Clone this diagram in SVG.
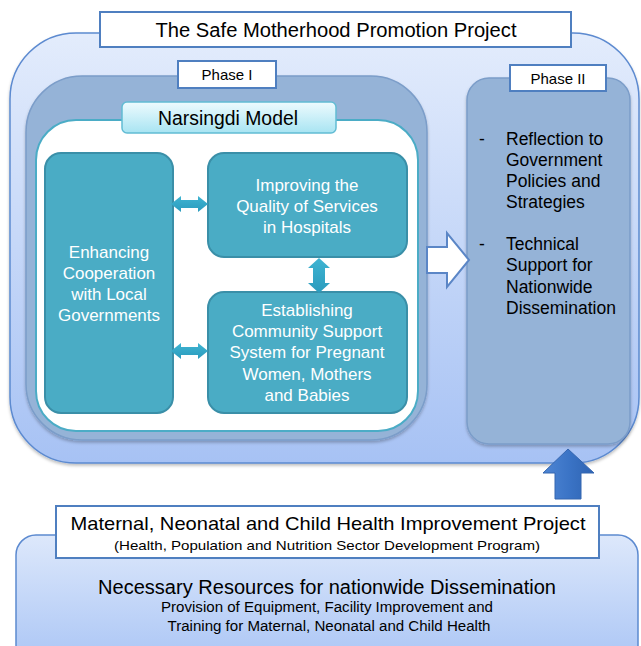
<svg xmlns="http://www.w3.org/2000/svg" width="641" height="646" viewBox="0 0 641 646">
  <defs>
    <linearGradient id="gOuter" x1="0" y1="0" x2="0" y2="1">
      <stop offset="0" stop-color="#e3ecfc"/>
      <stop offset="1" stop-color="#a7c2f4"/>
    </linearGradient>
    <linearGradient id="gBottom" x1="0" y1="0" x2="0" y2="1">
      <stop offset="0" stop-color="#dde8fb"/>
      <stop offset="1" stop-color="#aac5f5"/>
    </linearGradient>
    <linearGradient id="gLabel" x1="0" y1="0" x2="0" y2="1">
      <stop offset="0" stop-color="#eefbfe"/>
      <stop offset="1" stop-color="#a8e4f2"/>
    </linearGradient>
    <linearGradient id="gTeal" x1="0" y1="0" x2="0" y2="1">
      <stop offset="0" stop-color="#3fb4d2"/>
      <stop offset="1" stop-color="#2a9bbd"/>
    </linearGradient>
    <linearGradient id="gUp" x1="0" y1="0" x2="1" y2="0">
      <stop offset="0" stop-color="#4f86d4"/>
      <stop offset="0.5" stop-color="#3b74c6"/>
      <stop offset="1" stop-color="#2e63b2"/>
    </linearGradient>
    <filter id="shadow" x="-10%" y="-10%" width="120%" height="125%">
      <feDropShadow dx="0" dy="2" stdDeviation="1.5" flood-color="#000" flood-opacity="0.25"/>
    </filter>
  </defs>
  <style>
    text { font-family: "Liberation Sans", Arial, sans-serif; }
    .box { fill: #ffffff; stroke: #4f7fc0; stroke-width: 2; }
    .phase { fill: #95b3d7; stroke: #7b9dc9; stroke-width: 1.5; }
    .node { fill: #4aacc5; stroke: #3a8fa8; stroke-width: 2; }
    .ntext { fill: #ffffff; font-size: 17px; text-anchor: middle; }
    .dark { fill: #000000; }
    .ptext { fill: #000000; font-size: 17.5px; }
    .dbl { fill: url(#gTeal); }
  </style>

  <!-- outer project frame -->
  <g id="project-frame">
    <rect x="10" y="33" width="629" height="430" rx="66" ry="66" fill="url(#gOuter)" stroke="#5c8ad0" stroke-width="1.5" filter="url(#shadow)"/>
  </g>

  <!-- Phase I container -->
  <g id="phase1">
    <rect class="phase" x="26" y="76" width="401" height="364" rx="56" ry="56" filter="url(#shadow)"/>
    <rect x="36" y="120" width="382" height="311" rx="40" ry="40" fill="#ffffff" stroke="#4bacc6" stroke-width="2"/>
    <rect class="box" x="178" y="61" width="98" height="27"/>
    <text x="227" y="80" font-size="15" text-anchor="middle" class="dark">Phase I</text>
  </g>

  <!-- Narsingdi Model label -->
  <g id="narsingdi-label">
    <rect x="122" y="102" width="214" height="31" rx="5" ry="5" fill="url(#gLabel)" stroke="#62bcd4" stroke-width="1.5"/>
    <text x="228" y="125" font-size="19.5" text-anchor="middle" class="dark" textLength="140" lengthAdjust="spacingAndGlyphs">Narsingdi Model</text>
  </g>

  <!-- component nodes -->
  <g id="node-cooperation">
    <rect class="node" x="45" y="153" width="128" height="260" rx="16" ry="16"/>
    <text class="ntext" x="109" y="258">Enhancing</text>
    <text class="ntext" x="109" y="279">Cooperation</text>
    <text class="ntext" x="109" y="300">with Local</text>
    <text class="ntext" x="109" y="321">Governments</text>
  </g>
  <g id="node-quality">
    <rect class="node" x="208" y="153" width="199" height="104" rx="16" ry="16"/>
    <text class="ntext" x="307" y="191">Improving the</text>
    <text class="ntext" x="307" y="212">Quality of Services</text>
    <text class="ntext" x="307" y="233">in Hospitals</text>
  </g>
  <g id="node-community">
    <rect class="node" x="208" y="292" width="199" height="121" rx="16" ry="16"/>
    <text class="ntext" x="307" y="316">Establishing</text>
    <text class="ntext" x="307" y="337">Community Support</text>
    <text class="ntext" x="307" y="358">System for Pregnant</text>
    <text class="ntext" x="307" y="380">Women, Mothers</text>
    <text class="ntext" x="307" y="401">and Babies</text>
  </g>

  <!-- Phase II container -->
  <g id="phase2">
    <rect class="phase" x="467" y="78" width="163" height="366" rx="22" ry="22" filter="url(#shadow)"/>
    <rect class="box" x="510" y="65" width="96" height="26"/>
    <text x="558" y="84" font-size="15" text-anchor="middle" class="dark">Phase II</text>
    <text class="ptext" x="479" y="145">-</text>
    <text class="ptext" x="506" y="145">Reflection to</text>
    <text class="ptext" x="506" y="166">Government</text>
    <text class="ptext" x="506" y="187">Policies and</text>
    <text class="ptext" x="506" y="208">Strategies</text>
    <text class="ptext" x="479" y="250">-</text>
    <text class="ptext" x="506" y="250">Technical</text>
    <text class="ptext" x="506" y="271">Support for</text>
    <text class="ptext" x="506" y="293">Nationwide</text>
    <text class="ptext" x="506" y="314">Dissemination</text>
  </g>

  <!-- title -->
  <g id="title">
    <rect class="box" x="100" y="12" width="471" height="35"/>
    <text x="336" y="37" font-size="19.5" text-anchor="middle" class="dark" textLength="361" lengthAdjust="spacingAndGlyphs">The Safe Motherhood Promotion Project</text>
  </g>

  <!-- bottom resources panel -->
  <g id="resources">
    <rect x="16" y="535" width="622" height="130" rx="20" ry="20" fill="url(#gBottom)" stroke="#5c8ad0" stroke-width="1.5"/>
    <text x="327" y="594" font-size="19.5" text-anchor="middle" class="dark" textLength="458" lengthAdjust="spacingAndGlyphs">Necessary Resources for nationwide Dissemination</text>
    <text x="327" y="612" font-size="14" text-anchor="middle" class="dark" textLength="332" lengthAdjust="spacingAndGlyphs">Provision of Equipment, Facility Improvement and</text>
    <text x="329" y="631" font-size="14" text-anchor="middle" class="dark" textLength="323" lengthAdjust="spacingAndGlyphs">Training for Maternal, Neonatal and Child Health</text>
  </g>

  <!-- MNCH project label -->
  <g id="mnch">
    <rect class="box" x="56" y="506" width="543" height="52"/>
    <text x="328" y="530" font-size="19" text-anchor="middle" class="dark" textLength="515" lengthAdjust="spacingAndGlyphs">Maternal, Neonatal and Child Health Improvement Project</text>
    <text x="327" y="550" font-size="13.5" text-anchor="middle" class="dark" textLength="426" lengthAdjust="spacingAndGlyphs">(Health, Population and Nutrition Sector Development Program)</text>
  </g>

  <!-- connectors -->
  <g id="connectors">
    <!-- double arrows between components -->
    <path class="dbl" d="M171,204 L181,196 L181,200 L198,200 L198,196 L208,204 L198,212 L198,208 L181,208 L181,212 Z"/>
    <path class="dbl" d="M171,351 L181,343 L181,347 L198,347 L198,343 L208,351 L198,359 L198,355 L181,355 L181,359 Z"/>
    <path class="dbl" d="M319,258 L330,268 L325,268 L325,283 L330,283 L319,293 L308,283 L313,283 L313,268 L308,268 Z"/>
    <!-- hollow arrow from Phase I to Phase II -->
    <path d="M427,247 L447,247 L447,233 L469,260 L447,287 L447,273 L427,273 Z" fill="#ffffff" stroke="#5b86c6" stroke-width="2" stroke-linejoin="miter"/>
    <!-- upward arrow from MNCH project -->
    <path d="M568,449 L594,473 L581,473 L581,499 L555,499 L555,473 L543,473 Z" fill="url(#gUp)" stroke="#3566b0" stroke-width="1"/>
  </g>
</svg>
